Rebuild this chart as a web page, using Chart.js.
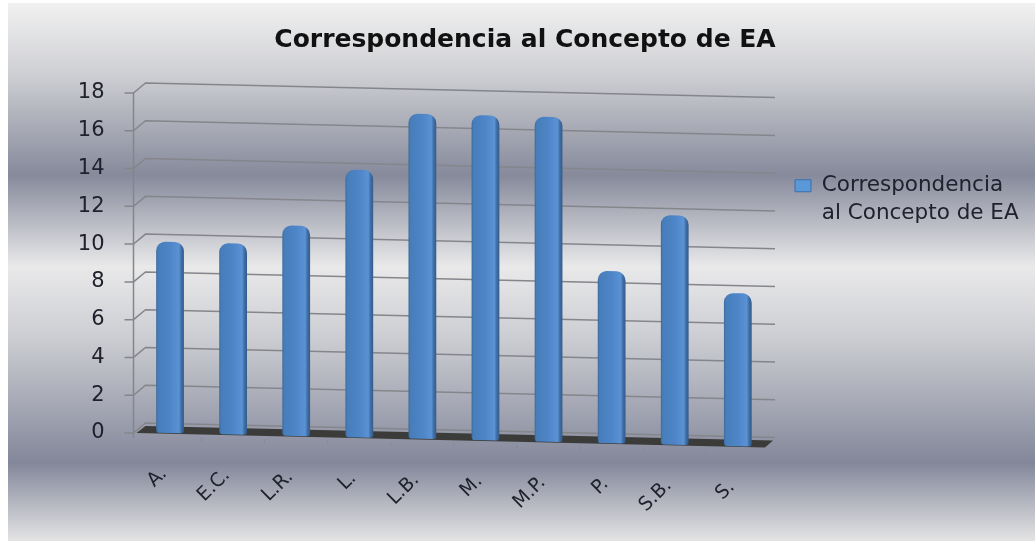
<!DOCTYPE html>
<html>
<head>
<meta charset="utf-8">
<script src="https://cdn.jsdelivr.net/npm/chart.js@4"></script>
<style>
html, body { margin: 0; padding: 0; background: #fff; overflow: hidden; }
</style>
</head>
<body>
<canvas id="myChart" width="1035" height="541"></canvas>
<script>
var categories = ['A.', 'E.C.', 'L.R.', 'L.', 'L.B.', 'M.', 'M.P.', 'P.', 'S.B.', 'S.'];
var values = [10, 10, 11, 14, 17, 17, 17, 9, 12, 8];
var seriesName = ['Correspondencia', 'al Concepto de EA'];
var chartTitle = 'Correspondencia al Concepto de EA';

var fontName = '"DejaVu Sans", sans-serif';
var textColor = '#20212c';
var slope = 0.0232;

// the 3D look: everything on the floor runs slightly downhill
function skew(chart, ctx, stretch) {
    var x0 = chart.scales.x.getPixelForValue(0);
    var base = chart.scales.y.getPixelForValue(0);
    ctx.transform(1, slope, 0, stretch, 0, base * (1 - stretch) - slope * x0);
}

var backdrop = {
    id: 'backdrop',
    afterLayout: function(chart) {
        // legend sits closer to the plot than its box would allow
        chart.legend.left = 787;
        chart.legend.right = 1035;
        chart.legend.top = 167;
        chart.titleBlock.left = 15;
        chart.titleBlock.right = 1035;
    },
    beforeDraw: function(chart) {
        var ctx = chart.ctx;
        var g = ctx.createLinearGradient(0, 3, 0, 541);
        g.addColorStop(0, '#f1f1f1');
        g.addColorStop(0.13, '#cfd0d4');
        g.addColorStop(0.32, '#868a9b');
        g.addColorStop(0.49, '#e9e9ea');
        g.addColorStop(0.62, '#cdced3');
        g.addColorStop(0.855, '#83879a');
        g.addColorStop(1, '#e4e4e5');
        ctx.save();
        ctx.fillStyle = g;
        ctx.fillRect(8, 3, 1027, 538);
        ctx.restore();
    }
};

var walls = {
    id: 'walls',
    beforeDatasetsDraw: function(chart) {
        var ctx = chart.ctx;
        var y = chart.scales.y;
        var x = chart.scales.x;
        var left = chart.chartArea.left - 5;
        var backLeft = left + 12;
        var backRight = 775;
        var rise = 10;
        var drop = (backRight - backLeft) * slope;
        ctx.save();
        ctx.lineWidth = 1.5;
        ctx.strokeStyle = '#85868c';
        y.ticks.forEach(function(t) {
            var p = y.getPixelForValue(t.value);
            ctx.beginPath();
            ctx.moveTo(left - 9, p);
            ctx.lineTo(left, p);
            ctx.lineTo(backLeft, p - rise);
            ctx.lineTo(backRight, p - rise + drop);
            ctx.stroke();
        });
        ctx.beginPath();
        ctx.moveTo(left, y.getPixelForValue(18));
        ctx.lineTo(left, y.getPixelForValue(0) + 5);
        ctx.stroke();

        var zero = y.getPixelForValue(0);
        ctx.fillStyle = '#3b3b39';
        ctx.beginPath();
        ctx.moveTo(left + 3, zero);
        ctx.lineTo(backLeft, zero - 7);
        ctx.lineTo(backRight - 2, zero - 7 + drop);
        ctx.lineTo(backRight - 10, zero + drop);
        ctx.closePath();
        ctx.fill();

        ctx.lineWidth = 1;
        ctx.strokeStyle = 'rgba(130,132,140,0.6)';
        categories.forEach(function(c, i) {
            if (i === 0) return;
            var px = (x.getPixelForValue(i - 1) + x.getPixelForValue(i)) / 2;
            var py = zero + (px - x.getPixelForValue(0)) * slope + 4;
            ctx.beginPath();
            ctx.moveTo(px, py);
            ctx.lineTo(px, py + 4);
            ctx.stroke();
        });
        ctx.restore();

        ctx.save();
        skew(chart, ctx, 1.012);
    },
    afterDatasetsDraw: function(chart) {
        chart.ctx.restore();
    },
    beforeDraw: function(chart) {
        var scale = chart.scales.x;
        var drawLabels = Object.getPrototypeOf(scale).drawLabels;
        scale.drawLabels = function(area) {
            chart.ctx.save();
            chart.ctx.translate(-6, 0);
            skew(chart, chart.ctx, 1);
            drawLabels.call(scale, area);
            chart.ctx.restore();
        };
    }
};

function barFill(context) {
    if (context.type !== 'data') return '#4f86c6';
    var chart = context.chart;
    var cx = chart.scales.x.getPixelForValue(context.dataIndex);
    var g = chart.ctx.createLinearGradient(cx - 14, 0, cx + 14, 0);
    g.addColorStop(0, '#3a689c');
    g.addColorStop(0.07, '#477db9');
    g.addColorStop(0.5, '#4d85c8');
    g.addColorStop(0.82, '#5a92d4');
    g.addColorStop(0.9, '#3f6fa6');
    g.addColorStop(1, '#33598a');
    return g;
}

var ctx = document.getElementById('myChart').getContext('2d');
var myChart = new Chart(ctx, {
    type: 'bar',
    data: {
        labels: categories,
        datasets: [{
            label: seriesName,
            data: values,
            backgroundColor: barFill,
            barPercentage: 0.44,
            categoryPercentage: 1,
            borderRadius: { topLeft: 9, topRight: 9, bottomLeft: 3, bottomRight: 3 },
            borderSkipped: false,
            clip: false
        }]
    },
    options: {
        responsive: false,
        animation: false,
        layout: { padding: { left: 8, right: 24, top: 0, bottom: 8 } },
        plugins: {
            title: {
                display: true,
                text: chartTitle,
                color: '#111111',
                font: { family: fontName, size: 25, weight: 'bold' },
                padding: { top: 25, bottom: 38 }
            },
            legend: {
                position: 'right',
                align: 'start',
                labels: {
                    color: textColor,
                    font: { family: fontName, size: 21.5, lineHeight: 1.3 },
                    boxWidth: 16,
                    boxHeight: 12,
                    padding: 8,
                    generateLabels: function() {
                        return [{
                            text: seriesName,
                            fillStyle: '#5b98d8',
                            strokeStyle: '#3d6ea8',
                            lineWidth: 1,
                            fontColor: textColor,
                            datasetIndex: 0
                        }];
                    }
                }
            },
            tooltip: { enabled: false }
        },
        scales: {
            x: {
                grid: { display: false },
                border: { display: false },
                afterFit: function(scale) { scale.height = 100; },
                ticks: {
                    color: textColor,
                    font: { family: fontName, size: 19 },
                    minRotation: 45,
                    maxRotation: 45,
                    autoSkip: false,
                    padding: 22
                }
            },
            y: {
                min: 0,
                max: 18,
                grid: { display: false },
                border: { display: false },
                afterFit: function(scale) { scale.width = 130.5; },
                ticks: {
                    stepSize: 2,
                    color: textColor,
                    font: { family: fontName, size: 21 },
                    padding: 26
                }
            }
        }
    },
    plugins: [backdrop, walls]
});
</script>
</body>
</html>
